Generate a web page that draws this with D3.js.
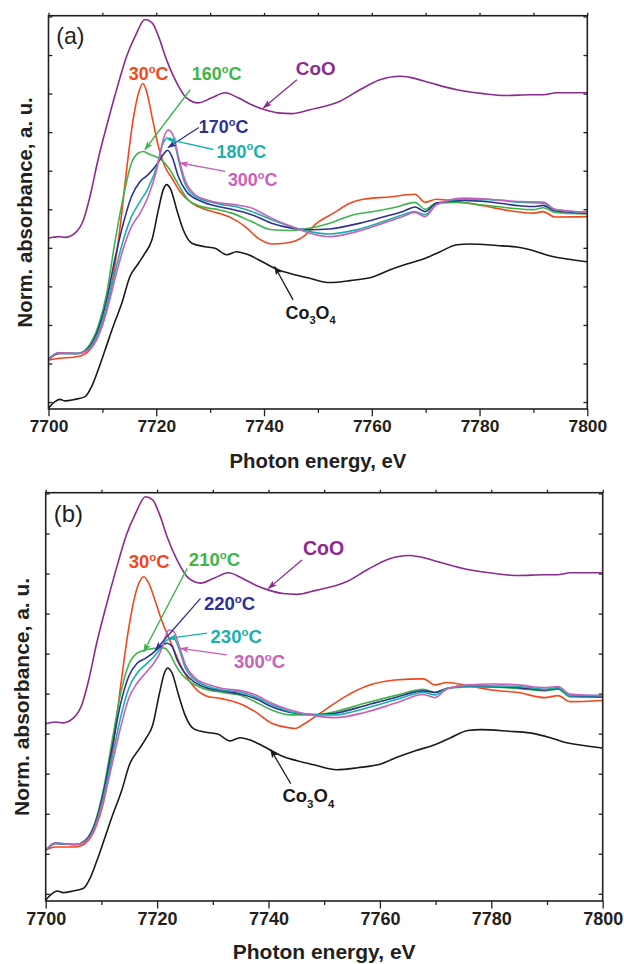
<!DOCTYPE html>
<html>
<head>
<meta charset="utf-8">
<script src="https://cdn.jsdelivr.net/npm/d3@7"></script>
<style>
  body { margin: 0; background: #fff; }
  svg { display: block; font-family: Arial, "Liberation Sans", Helvetica, sans-serif; }
</style>
</head>
<body>
<div id="chart"></div>
<script>
// x-axis ticks (photon energy, eV)
var energyLabels = [7700, 7720, 7740, 7760, 7780, 7800];
var energyMinor = [7710, 7730, 7750, 7770, 7790];
var absTicks = [0, 1, 2, 3, 4, 5, 6, 7, 8, 9, 10];

// reference spectra, same in both panels: [energy, norm. absorbance]
var coO = [[7700,4.25],[7701.8,4.29],[7703.1,4.27],[7704.9,4.38],[7706.5,4.73],[7707.7,5.33],[7709.2,6.29],[7711.1,7.32],[7713,8.28],[7714.5,8.97],[7716.1,9.49],[7717.9,9.92],[7719.2,9.84],[7720.4,9.49],[7721.9,8.88],[7723.8,8.28],[7725.6,7.89],[7727.8,7.76],[7730.3,7.89],[7732.8,8.02],[7735.2,7.89],[7737.7,7.71],[7740.2,7.58],[7742.6,7.5],[7745.1,7.48],[7748.5,7.58],[7754.1,7.8],[7757.8,8.1],[7761.5,8.36],[7765.2,8.45],[7767.1,8.42],[7770.8,8.28],[7775.8,8.1],[7780.7,8],[7785,7.95],[7789.4,7.97],[7791.8,7.97],[7794.3,8.02],[7800,8.02]];
var co3o4 = [[7700,-0.16],[7701.2,0.01],[7702.1,0.07],[7703.1,0.03],[7704.9,0.07],[7706.8,0.14],[7708,0.4],[7709.2,0.83],[7710.5,1.35],[7712,1.96],[7713.6,2.56],[7715.1,3.25],[7716.7,3.6],[7717.9,3.86],[7719.2,4.21],[7720.4,4.99],[7721.3,5.51],[7721.9,5.64],[7722.7,5.51],[7723.8,4.99],[7725,4.47],[7726.6,4.12],[7729,4.03],[7730.9,3.99],[7733.1,3.82],[7734.9,3.9],[7737.1,3.82],[7740.2,3.6],[7742.6,3.43],[7745,3.33],[7748.5,3.21],[7752.2,3.1],[7756,3.15],[7760.3,3.25],[7763.4,3.43],[7766.5,3.58],[7769.6,3.71],[7772.7,3.9],[7775.8,4.08],[7778.2,4.1],[7783.2,4.06],[7786.9,4.02],[7790.6,3.9],[7792.8,3.8],[7796.2,3.71],[7800,3.64]];

// panel (a) samples
var a30 = [[7700,1.09],[7701.8,1.13],[7705.5,1.18],[7707.4,1.31],[7709.2,1.7],[7710.8,2.39],[7712,3.25],[7713.3,4.55],[7714.5,6.03],[7715.7,7.32],[7716.9,8.1],[7717.5,8.26],[7718.2,8.06],[7719.2,7.41],[7720.4,6.63],[7721.6,6.11],[7722.9,5.81],[7724.4,5.46],[7726.6,5.16],[7729,5],[7731.5,4.9],[7734,4.77],[7736.5,4.55],[7738.9,4.25],[7741.4,4.1],[7743.9,4.12],[7747.3,4.29],[7749.8,4.64],[7752.9,4.9],[7756,5.16],[7758.4,5.26],[7763.4,5.32],[7768,5.39],[7769.9,5.18],[7772,5.26],[7775.8,5.2],[7780.7,5.09],[7785.7,4.96],[7790,4.9],[7791.8,4.94],[7794,4.8],[7800,4.81]];
var a160 = [[7700,1.09],[7701.8,1.26],[7705.5,1.26],[7707.4,1.44],[7709.2,1.96],[7710.8,2.82],[7712.3,4.12],[7713.9,5.33],[7715.4,6.2],[7716.7,6.46],[7717.6,6.5],[7718.5,6.44],[7719.8,6.37],[7721.3,6.24],[7722.5,6.03],[7724.1,5.64],[7725.9,5.25],[7728.4,5.07],[7731.5,4.99],[7734,4.9],[7737.7,4.68],[7741.4,4.47],[7745.1,4.45],[7748.5,4.51],[7752.2,4.64],[7756.6,4.86],[7760.3,4.94],[7764.6,5.06],[7768,5.18],[7769.9,5],[7772,5.16],[7775.8,5.18],[7780.7,5.11],[7785.7,5.03],[7790,4.99],[7791.8,5.04],[7794,4.92],[7800,4.88]];
var a170 = [[7700,1.09],[7701.8,1.26],[7705.5,1.26],[7707.4,1.4],[7709.2,1.87],[7710.8,2.65],[7712.3,3.69],[7713.9,4.64],[7715.4,5.33],[7717,5.72],[7718.5,5.9],[7720.1,6.16],[7721.3,6.42],[7722.1,6.53],[7722.9,6.37],[7724.1,5.85],[7725.6,5.46],[7728.4,5.2],[7731.5,5.07],[7734,5],[7737.7,4.86],[7741.4,4.64],[7745.1,4.51],[7748.5,4.47],[7752.2,4.49],[7757.8,4.64],[7762.1,4.8],[7765.8,4.94],[7768,5.06],[7769.9,4.94],[7772,5.16],[7777,5.23],[7781.9,5.19],[7787.5,5.09],[7790,5.07],[7791.8,5.1],[7794,4.96],[7800,4.9]];
var a180 = [[7700,1.12],[7701.8,1.28],[7705.5,1.26],[7707.4,1.37],[7709.2,1.78],[7710.8,2.48],[7712.3,3.34],[7713.9,4.21],[7715.4,4.81],[7717,5.2],[7718.5,5.55],[7720.1,6.11],[7721.3,6.72],[7722.1,6.85],[7723.2,6.79],[7724.1,6.29],[7725.3,5.68],[7727.2,5.33],[7729.7,5.2],[7732.1,5.12],[7734.6,5.07],[7737.7,4.94],[7741.4,4.73],[7745.1,4.55],[7748.5,4.42],[7752.2,4.36],[7757.2,4.47],[7762.1,4.68],[7765.8,4.86],[7768,4.94],[7769.9,4.86],[7772,5.12],[7777,5.26],[7781.9,5.25],[7787.5,5.18],[7791.8,5.16],[7794,4.99],[7800,4.92]];
var a300 = [[7700,1.09],[7701.8,1.28],[7705.5,1.26],[7707.4,1.35],[7709.2,1.7],[7710.8,2.35],[7712.3,3.17],[7713.9,3.99],[7715.4,4.55],[7717,4.9],[7718.5,5.33],[7720.1,6.03],[7721.3,6.81],[7722.2,7.06],[7723.2,6.89],[7724.1,6.37],[7725.3,5.77],[7727.2,5.38],[7729.7,5.23],[7732.1,5.16],[7734.6,5.12],[7737.7,5.03],[7741.4,4.77],[7745.1,4.55],[7748.5,4.38],[7752.2,4.29],[7757.2,4.42],[7762.1,4.64],[7765.8,4.81],[7768,4.92],[7769.9,4.81],[7772,5.12],[7777,5.29],[7781.9,5.26],[7787.5,5.2],[7791.8,5.19],[7794,5],[7800,4.92]];

// panel (b) samples
var b30 = [[7700,1.09],[7701.7,1.17],[7705.3,1.17],[7707.1,1.26],[7708.9,1.63],[7710.4,2.3],[7711.9,3.47],[7713.4,5.13],[7714.9,6.63],[7716.4,7.63],[7717.6,7.92],[7718.5,7.76],[7719.7,7.3],[7720.9,6.8],[7722.4,6.3],[7724.5,5.63],[7726.3,5.22],[7728.7,4.95],[7731.7,4.87],[7735.2,4.73],[7737.6,4.55],[7740.6,4.26],[7743.6,4.15],[7744.8,4.13],[7746.6,4.26],[7750.1,4.59],[7753.7,4.92],[7757.3,5.17],[7762.7,5.34],[7767.8,5.37],[7769.9,5.22],[7772,5.28],[7775.9,5.2],[7780.1,5.09],[7784.8,5.03],[7789.6,4.9],[7792,4.95],[7794.1,4.8],[7800,4.83]];
var b210 = [[7700,1.09],[7701.7,1.26],[7705.3,1.23],[7707.1,1.34],[7708.9,1.8],[7710.4,2.63],[7711.9,3.8],[7713.4,4.97],[7714.9,5.72],[7716.4,6.01],[7717.9,6.09],[7719.4,6.13],[7720.6,6.15],[7721.5,6.13],[7722.4,5.97],[7723.3,5.72],[7724.5,5.47],[7726.3,5.26],[7729.3,5.09],[7731.7,5.03],[7735.2,4.95],[7737.6,4.8],[7740.6,4.59],[7743.9,4.47],[7748.3,4.47],[7751.9,4.55],[7757.3,4.76],[7762.7,4.95],[7767.8,5.11],[7769.9,5.03],[7772,5.13],[7775.9,5.17],[7780.1,5.16],[7784.8,5.13],[7789.6,5.07],[7792,5.11],[7794.1,4.92],[7800,4.92]];
var b220 = [[7700,1.09],[7701.7,1.26],[7705.3,1.23],[7707.1,1.32],[7708.9,1.76],[7710.4,2.55],[7711.9,3.63],[7713.4,4.72],[7714.9,5.43],[7716.4,5.76],[7717.9,5.88],[7719.4,6.03],[7720.6,6.18],[7721.8,6.26],[7722.7,6.18],[7723.6,5.84],[7724.8,5.55],[7726.6,5.3],[7729.3,5.13],[7731.7,5.07],[7735.2,4.98],[7737.6,4.88],[7740.6,4.67],[7743.9,4.53],[7748.3,4.48],[7751.9,4.51],[7757.3,4.7],[7762.7,4.9],[7767.8,5.07],[7769.9,5.03],[7772,5.13],[7775.9,5.19],[7780.1,5.18],[7784.8,5.15],[7789.6,5.09],[7792,5.13],[7794.1,4.95],[7800,4.92]];
var b230 = [[7700,1.09],[7701.7,1.27],[7705.3,1.23],[7707.1,1.3],[7708.9,1.7],[7710.4,2.43],[7711.9,3.38],[7713.4,4.38],[7714.9,5.13],[7716.4,5.51],[7717.9,5.72],[7719.4,5.92],[7720.6,6.13],[7721.8,6.34],[7723,6.38],[7723.9,6.13],[7725.1,5.63],[7726.9,5.34],[7729.3,5.17],[7731.7,5.09],[7735.2,5.03],[7737.6,4.92],[7740.6,4.72],[7743.9,4.55],[7748.3,4.47],[7751.9,4.47],[7757.3,4.63],[7762.7,4.84],[7767.8,5.03],[7769.9,4.97],[7772,5.13],[7775.9,5.2],[7780.1,5.19],[7784.8,5.18],[7789.6,5.11],[7792,5.15],[7794.1,4.95],[7800,4.95]];
var b300 = [[7700,1.09],[7701.7,1.27],[7705.3,1.23],[7707.1,1.3],[7708.9,1.67],[7710.4,2.34],[7711.9,3.22],[7713.4,4.13],[7714.9,4.88],[7716.4,5.26],[7717.9,5.51],[7719.4,5.76],[7720.6,6.05],[7721.5,6.43],[7722.1,6.59],[7723,6.55],[7723.9,6.22],[7725.1,5.72],[7726.9,5.38],[7729.3,5.22],[7731.7,5.13],[7735.2,5.07],[7737.6,4.97],[7740.6,4.76],[7743.9,4.59],[7748.3,4.45],[7751.9,4.4],[7757.3,4.53],[7762.7,4.76],[7767.8,4.98],[7769.9,4.9],[7772,5.11],[7775.9,5.22],[7780.1,5.24],[7784.8,5.22],[7789.6,5.15],[7792,5.18],[7794.1,4.99],[7800,4.95]];

var colors = {
	black: '#1a1a1a',
	purple: '#8c2a90',
	red: '#f1471d',
	green: '#3db54a',
	navy: '#2e3192',
	cyan: '#19b0ad',
	pink: '#c961b8'
};

var panels = [
	{
		letter: '(a)', left: 48.5, right: 587.3, top: 15.7, bottom: 409, k: 0.967,
		series: [
			{ color: colors.black, values: co3o4 },
			{ color: colors.purple, values: coO },
			{ color: colors.red, values: a30 },
			{ color: colors.green, values: a160 },
			{ color: colors.navy, values: a170 },
			{ color: colors.cyan, values: a180 },
			{ color: colors.pink, values: a300 }
		],
		// label anchors in data units (energy, absorbance)
		labels: [
			{ kind: 'temp', text: '30', color: colors.red, at: [7714.9, 8.36] },
			{ kind: 'temp', text: '160', color: colors.green, at: [7726.6, 8.36] },
			{ kind: 'temp', text: '170', color: colors.navy, at: [7727.9, 6.98] },
			{ kind: 'temp', text: '180', color: colors.cyan, at: [7731.2, 6.34] },
			{ kind: 'temp', text: '300', color: colors.pink, at: [7733.3, 5.61] },
			{ kind: 'plain', text: 'CoO', color: colors.purple, at: [7745.9, 8.47] },
			{ kind: 'formula', color: colors.black, at: [7744.0, 2.16] }
		],
		arrows: [
			{ color: colors.green, from: [7726.3, 8.1], to: [7717.9, 6.55] },
			{ color: colors.navy, from: [7727.9, 7.12], to: [7722.2, 6.6] },
			{ color: colors.cyan, from: [7730.6, 6.55], to: [7722.2, 6.81] },
			{ color: colors.pink, from: [7732.8, 5.98], to: [7724.4, 6.2] },
			{ color: colors.purple, from: [7746.1, 8.36], to: [7739.9, 7.63] },
			{ color: colors.black, from: [7745.4, 2.65], to: [7742.0, 3.51] }
		]
	},
	{
		letter: '(b)', left: 45.7, right: 602.7, top: 492.7, bottom: 901, k: 1,
		series: [
			{ color: colors.black, values: co3o4 },
			{ color: colors.purple, values: coO },
			{ color: colors.red, values: b30 },
			{ color: colors.green, values: b210 },
			{ color: colors.navy, values: b220 },
			{ color: colors.cyan, values: b230 },
			{ color: colors.pink, values: b300 }
		],
		labels: [
			{ kind: 'temp', text: '30', color: colors.red, at: [7714.9, 8.13] },
			{ kind: 'temp', text: '210', color: colors.green, at: [7725.7, 8.18] },
			{ kind: 'temp', text: '220', color: colors.navy, at: [7728.4, 7.09] },
			{ kind: 'temp', text: '230', color: colors.cyan, at: [7729.6, 6.26] },
			{ kind: 'temp', text: '300', color: colors.pink, at: [7733.8, 5.63] },
			{ kind: 'plain', text: 'CoO', color: colors.purple, at: [7746.2, 8.47] },
			{ kind: 'formula', color: colors.black, at: [7742.5, 2.29] }
		],
		arrows: [
			{ color: colors.green, from: [7725.4, 8.13], to: [7717.6, 6.05] },
			{ color: colors.navy, from: [7727.8, 7.38], to: [7719.7, 6.09] },
			{ color: colors.cyan, from: [7729.0, 6.51], to: [7722.0, 6.38] },
			{ color: colors.pink, from: [7732.5, 5.97], to: [7724.2, 6.13] },
			{ color: colors.purple, from: [7746.0, 8.34], to: [7740.0, 7.63] },
			{ color: colors.black, from: [7744.0, 2.75], to: [7740.4, 3.6] }
		]
	}
];

var svg = d3.select('#chart')
	.append('svg')
	.attr('width', 624)
	.attr('height', 964);

// one arrowhead marker per colour
var defs = svg.append('defs');
Object.keys(colors).forEach(function (key) {
	defs.append('marker')
		.attr('id', 'head-' + key)
		.attr('viewBox', '0 0 10 10')
		.attr('refX', 9)
		.attr('refY', 5)
		.attr('markerWidth', 10)
		.attr('markerHeight', 9)
		.attr('markerUnits', 'userSpaceOnUse')
		.attr('orient', 'auto')
		.append('path')
		.attr('d', 'M0,1.5 L10,5 L0,8.5 L2,5 Z')
		.attr('fill', colors[key]);
});

function colorKey(c) {
	return Object.keys(colors).filter(function (k) { return colors[k] === c; })[0];
}

function addLabel(g, x, y, lab, size) {
	var t = g.append('text')
		.attr('x', x)
		.attr('y', y)
		.attr('fill', lab.color)
		.attr('font-weight', 'bold')
		.attr('font-size', size);

	if (lab.kind === 'temp') {
		t.append('tspan').text(lab.text);
		t.append('tspan').attr('font-size', size * 0.62).attr('dy', -size * 0.4).text('o');
		t.append('tspan').attr('dy', size * 0.4).text('C');
	} else if (lab.kind === 'formula') {
		t.append('tspan').text('Co');
		t.append('tspan').attr('font-size', size * 0.62).attr('dy', size * 0.3).text('3');
		t.append('tspan').attr('dy', -size * 0.3).text('O');
		t.append('tspan').attr('font-size', size * 0.62).attr('dy', size * 0.3).text('4');
	} else {
		t.text(lab.text);
	}
}

function drawPanel(p) {
	var k = p.k;
	var g = svg.append('g');

	var x = d3.scaleLinear().domain([7700, 7800]).range([p.left, p.right]);
	var y = d3.scaleLinear().domain([-0.18, 10.02]).range([p.bottom, p.top]);

	// bottom axis: labelled majors + short minors
	g.append('g')
		.attr('transform', 'translate(0,' + p.bottom + ')')
		.call(d3.axisBottom(x).tickValues(energyLabels).tickSize(7.5 * k).tickPadding(4 * k).tickFormat(d3.format('d')))
		.call(function (a) {
			a.select('.domain').remove();
			a.selectAll('text').attr('font-size', 18 * k).attr('font-weight', 'bold').attr('fill', '#231f20')
				.attr('font-family', 'Arial, "Liberation Sans", sans-serif');
		});
	g.append('g')
		.attr('transform', 'translate(0,' + p.bottom + ')')
		.call(d3.axisBottom(x).tickValues(energyMinor).tickSize(4 * k).tickFormat(''))
		.call(function (a) { a.select('.domain').remove(); });

	// top axis, short outward ticks
	g.append('g')
		.attr('transform', 'translate(0,' + p.top + ')')
		.call(d3.axisTop(x).tickValues(energyLabels.concat(energyMinor)).tickSize(3 * k).tickFormat(''))
		.call(function (a) { a.select('.domain').remove(); });

	// left and right, inward ticks
	g.append('g')
		.attr('transform', 'translate(' + p.left + ',0)')
		.call(d3.axisLeft(y).tickValues(absTicks).tickSize(-4 * k).tickFormat(''))
		.call(function (a) { a.select('.domain').remove(); });
	g.append('g')
		.attr('transform', 'translate(' + p.right + ',0)')
		.call(d3.axisRight(y).tickValues(absTicks).tickSize(-4 * k).tickFormat(''))
		.call(function (a) { a.select('.domain').remove(); });

	g.selectAll('.tick line').attr('stroke', '#231f20').attr('stroke-width', 1.3);

	var line = d3.line()
		.x(function (d) { return x(d[0]); })
		.y(function (d) { return y(d[1]); })
		.curve(d3.curveMonotoneX);

	g.append('g')
		.selectAll('path')
		.data(p.series)
		.enter()
		.append('path')
		.attr('d', function (s) { return line(s.values); })
		.attr('fill', 'none')
		.attr('stroke', function (s) { return s.color; })
		.attr('stroke-width', 1.6)
		.attr('stroke-linejoin', 'round');

	// frame
	g.append('rect')
		.attr('x', p.left)
		.attr('y', p.top)
		.attr('width', p.right - p.left)
		.attr('height', p.bottom - p.top)
		.attr('fill', 'none')
		.attr('stroke', '#231f20')
		.attr('stroke-width', 1.6);

	// arrows
	p.arrows.forEach(function (a) {
		g.append('line')
			.attr('x1', x(a.from[0])).attr('y1', y(a.from[1]))
			.attr('x2', x(a.to[0])).attr('y2', y(a.to[1]))
			.attr('stroke', a.color)
			.attr('stroke-width', 1.3)
			.attr('marker-end', 'url(#head-' + colorKey(a.color) + ')');
	});

	p.labels.forEach(function (lab) {
		var size = (lab.kind === 'plain' ? 19.5 : 18.5) * k;
		addLabel(g, x(lab.at[0]), y(lab.at[1]), lab, size);
	});

	// panel letter
	g.append('text')
		.attr('x', p.left + 8 * k)
		.attr('y', p.top + 29 * k)
		.attr('font-size', 24 * k)
		.attr('fill', '#231f20')
		.text(p.letter);

	// axis titles (bottom one kept inside the 964px page)
	g.append('text')
		.attr('x', (p.left + p.right) / 2)
		.attr('y', Math.min(p.bottom + 61 * k, 959))
		.attr('text-anchor', 'middle')
		.attr('font-size', 21 * k)
		.attr('font-weight', 'bold')
		.attr('fill', '#231f20')
		.text('Photon energy, eV');

	g.append('text')
		.attr('transform', 'translate(' + (p.left - 17 * k) + ',' + ((p.top + p.bottom) / 2) + ') rotate(-90)')
		.attr('text-anchor', 'middle')
		.attr('font-size', 21 * k)
		.attr('font-weight', 'bold')
		.attr('fill', '#231f20')
		.text('Norm. absorbance, a. u.');
}

panels.forEach(drawPanel);
</script>
</body>
</html>
